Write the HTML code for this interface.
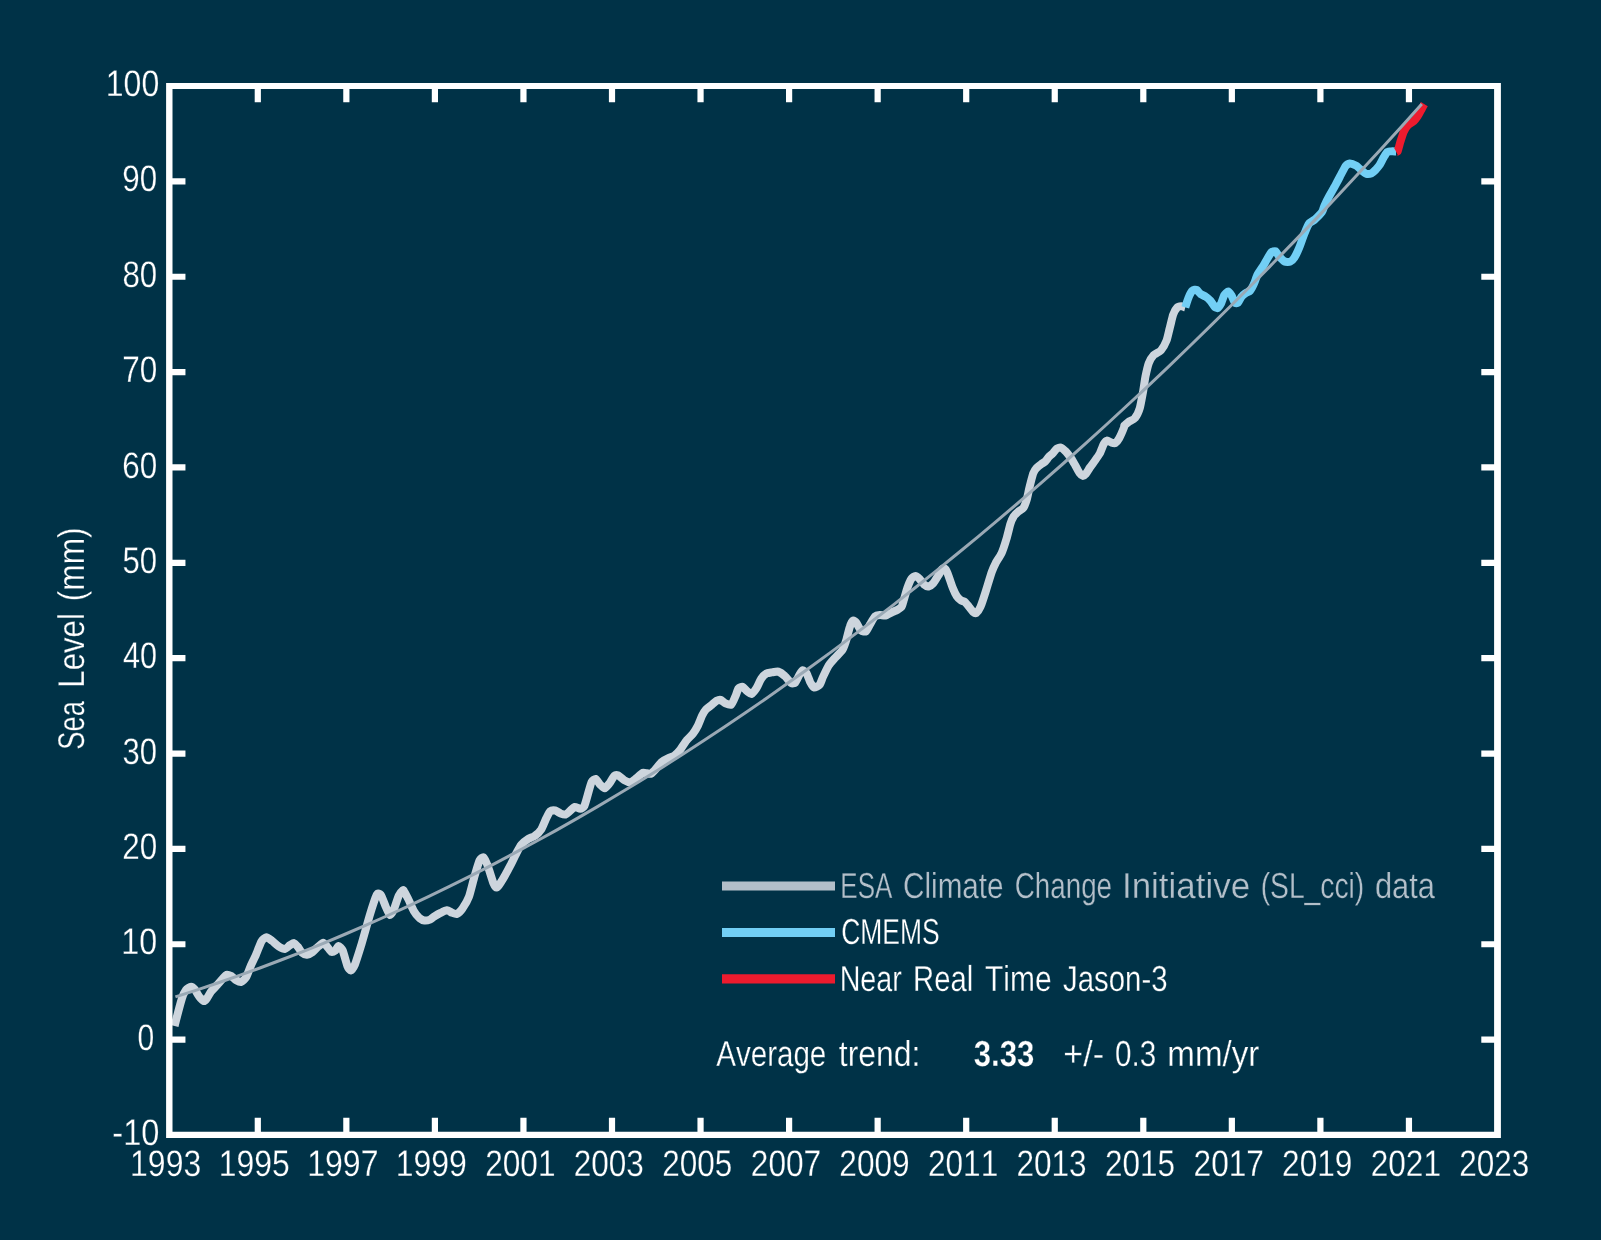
<!DOCTYPE html>
<html><head><meta charset="utf-8"><title>Sea Level</title>
<style>
html,body{margin:0;padding:0;background:#003247;}
body{width:1601px;height:1240px;overflow:hidden;}
svg{display:block;will-change:transform;}
text{font-family:"Liberation Sans",sans-serif;font-kerning:none;white-space:pre;text-rendering:geometricPrecision;stroke:#003247;stroke-width:0.3px;paint-order:fill stroke;}
</style></head><body>
<svg width="1601" height="1240" viewBox="0 0 1601 1240">
<rect width="1601" height="1240" fill="#003247"/>
<g fill="none" stroke-linejoin="round" stroke-linecap="butt">
<path d="M174.6,1026.0C175.3,1023.2 180.8,1002.1 181.9,998.5C183.0,994.8 185.1,991.0 186.0,989.8C186.9,988.6 190.0,986.7 190.9,986.7C191.8,986.6 194.1,988.6 194.9,989.6C195.7,990.6 198.1,995.2 199.0,996.3C199.9,997.5 203.0,1000.9 203.8,1001.1C204.6,1001.2 206.4,999.1 207.1,998.1C207.8,997.2 210.1,992.7 211.2,991.3C212.3,990.0 216.6,985.7 217.7,984.4C218.8,983.2 221.6,979.9 222.5,978.9C223.4,978.0 225.7,975.1 226.6,974.8C227.5,974.5 230.5,975.7 231.5,976.2C232.5,976.8 235.3,979.7 236.3,980.3C237.3,980.9 240.2,982.3 241.2,982.0C242.2,981.7 245.1,979.0 246.1,977.3C247.1,975.7 249.9,967.7 250.9,965.5C251.9,963.3 254.7,957.6 255.8,955.1C256.9,952.7 260.4,943.1 261.5,941.3C262.6,939.5 265.3,937.4 266.4,937.3C267.5,937.3 270.9,940.0 272.1,940.9C273.3,941.8 277.3,945.5 278.6,946.3C279.9,947.1 283.9,949.1 285.0,949.0C286.1,948.9 289.0,945.8 289.9,945.2C290.8,944.7 293.2,942.9 294.0,943.1C294.8,943.2 297.2,946.0 298.0,947.0C298.8,947.9 301.2,952.1 302.1,952.8C303.0,953.6 305.9,954.8 307.0,954.7C308.1,954.6 311.6,952.7 312.7,951.9C313.8,951.0 317.2,947.4 318.3,946.5C319.4,945.6 322.3,942.8 323.2,942.8C324.1,942.8 326.5,945.9 327.3,946.8C328.1,947.7 330.5,951.4 331.3,951.8C332.1,952.1 334.7,950.9 335.4,950.4C336.1,949.8 337.9,946.0 338.6,946.1C339.3,946.1 341.8,948.5 342.7,950.5C343.6,952.6 346.8,964.5 347.6,966.5C348.4,968.5 350.1,970.6 350.8,970.4C351.5,970.2 353.8,967.1 354.9,964.6C356.0,962.0 359.9,949.4 361.4,944.6C362.9,939.7 368.0,921.2 369.5,916.2C371.0,911.2 375.7,896.8 376.8,894.7C377.9,892.6 380.0,893.8 380.9,895.0C381.8,896.1 384.8,904.6 385.7,906.6C386.6,908.6 389.0,914.6 389.8,914.9C390.6,915.2 393.0,911.4 393.9,909.5C394.8,907.5 397.8,897.6 398.7,895.7C399.6,893.8 402.3,890.8 402.8,890.4C403.3,889.9 403.6,890.4 404.1,891.3C404.6,892.1 407.1,896.8 408.1,898.8C409.1,900.7 412.7,909.0 413.8,910.9C414.9,912.8 418.4,917.1 419.5,918.1C420.6,919.0 423.3,920.4 424.4,920.5C425.4,920.7 429.0,920.0 430.0,919.6C431.0,919.2 433.0,917.3 434.1,916.6C435.2,915.9 439.3,913.5 440.6,912.9C441.9,912.2 446.0,910.3 447.1,910.3C448.2,910.2 451.0,912.4 452.0,912.7C453.0,913.1 455.8,914.4 456.8,914.0C457.9,913.6 461.3,910.3 462.5,908.5C463.7,906.8 467.8,900.0 469.0,896.7C470.2,893.4 473.6,879.3 474.7,875.6C475.8,872.0 478.7,862.2 479.6,860.4C480.5,858.6 482.8,856.9 483.6,857.4C484.4,858.0 486.7,863.3 487.7,865.8C488.7,868.4 492.5,881.0 493.4,883.2C494.3,885.4 495.9,887.6 496.6,887.6C497.3,887.5 499.3,885.0 500.7,882.7C502.1,880.5 508.8,868.5 510.4,865.4C512.0,862.4 515.8,854.2 516.9,852.2C518.0,850.2 519.9,846.3 521.0,845.0C522.1,843.6 526.9,839.8 528.3,838.9C529.7,838.0 533.5,836.9 534.8,835.9C536.1,835.0 540.2,831.0 541.3,829.3C542.4,827.5 545.3,820.2 546.2,818.4C547.1,816.6 549.3,812.1 550.2,811.3C551.1,810.5 554.0,810.2 555.1,810.4C556.2,810.7 559.8,813.2 560.8,813.6C561.8,814.0 564.7,814.8 565.6,814.5C566.5,814.3 568.8,812.0 569.7,811.2C570.6,810.5 573.5,807.1 574.6,806.9C575.7,806.6 579.3,808.9 580.3,808.8C581.3,808.8 583.6,807.4 584.3,806.1C585.0,804.7 586.9,797.7 587.6,795.3C588.3,792.8 590.8,783.6 591.6,782.0C592.4,780.4 594.9,778.8 595.7,779.0C596.5,779.2 598.9,783.3 599.8,784.3C600.7,785.2 603.6,788.4 604.6,788.3C605.6,788.2 608.5,784.5 609.5,783.3C610.5,782.0 613.5,776.5 614.4,775.7C615.3,774.9 617.4,775.1 618.4,775.5C619.4,776.0 622.9,779.4 624.1,780.1C625.3,780.8 629.4,782.5 630.6,782.3C631.8,782.1 635.1,779.1 636.3,778.2C637.5,777.2 641.8,773.3 642.8,772.8C643.8,772.4 646.0,773.2 646.8,773.3C647.6,773.4 650.0,774.2 650.9,773.8C651.8,773.3 654.8,770.1 655.8,769.0C656.8,767.8 660.2,763.3 661.4,762.2C662.6,761.1 666.6,759.0 667.9,758.4C669.2,757.7 673.2,756.6 674.4,755.7C675.6,754.9 678.8,751.6 680.0,750.1C681.2,748.5 685.2,742.1 686.5,740.5C687.8,738.8 691.9,735.2 693.0,733.7C694.1,732.2 697.0,727.4 697.9,725.6C698.8,723.8 701.2,717.4 702.0,715.8C702.8,714.2 705.0,710.5 706.0,709.4C707.0,708.3 710.6,705.8 711.7,704.9C712.8,704.1 715.7,701.3 716.6,700.8C717.5,700.3 719.7,699.6 720.6,699.8C721.5,700.1 724.4,702.8 725.5,703.3C726.6,703.8 730.2,705.3 731.2,704.6C732.2,703.9 734.6,698.3 735.3,696.6C736.0,695.0 737.8,689.4 738.5,688.4C739.2,687.5 741.7,686.5 742.6,686.8C743.5,687.1 746.5,690.7 747.4,691.4C748.3,692.1 750.6,694.2 751.5,693.9C752.4,693.6 755.4,689.8 756.4,688.3C757.4,686.8 760.2,680.3 761.2,678.8C762.2,677.3 765.0,674.3 766.1,673.7C767.2,673.0 770.6,672.6 771.8,672.4C773.0,672.2 777.0,671.3 778.3,671.6C779.6,672.0 783.5,674.8 784.8,676.0C786.1,677.1 790.2,682.4 791.3,683.1C792.3,683.7 794.5,683.4 795.3,682.6C796.1,681.8 798.7,676.0 799.4,674.8C800.1,673.6 802.0,670.4 802.7,670.3C803.4,670.2 806.0,672.3 806.7,673.4C807.4,674.6 809.3,680.2 810.0,681.7C810.7,683.1 813.0,687.2 814.0,687.5C815.0,687.8 818.8,685.8 819.7,684.7C820.6,683.6 822.1,678.8 823.0,676.9C823.9,675.0 827.4,667.5 828.6,665.6C829.8,663.7 833.7,659.4 835.1,657.8C836.5,656.2 841.3,651.8 842.4,650.0C843.5,648.1 845.8,641.6 846.5,639.3C847.2,637.0 849.1,628.8 849.8,627.0C850.4,625.1 852.4,621.1 853.0,620.7C853.6,620.2 855.4,621.6 856.2,622.6C857.0,623.6 860.1,629.7 861.1,630.6C862.1,631.5 865.1,631.9 866.0,631.3C866.9,630.6 869.1,625.9 870.0,624.4C870.9,622.9 873.9,617.5 874.9,616.5C875.9,615.6 878.7,615.0 879.8,614.9C880.9,614.8 884.3,615.9 885.5,615.6C886.7,615.4 890.9,612.8 892.0,612.3C893.1,611.7 895.8,610.7 896.8,610.2C897.8,609.6 901.1,607.4 901.7,606.6C902.3,605.8 902.6,603.9 903.2,602.1C903.8,600.2 906.5,590.4 907.3,588.1C908.1,585.8 910.6,579.9 911.4,578.7C912.2,577.5 914.6,576.0 915.4,576.0C916.2,576.0 918.6,577.9 919.5,578.8C920.4,579.7 923.5,584.1 924.4,584.8C925.3,585.6 927.5,586.7 928.4,586.5C929.3,586.3 932.3,584.3 933.3,583.2C934.3,582.1 937.3,577.0 938.2,575.6C939.1,574.2 941.5,569.7 942.2,569.0C942.9,568.4 944.9,568.4 945.5,569.2C946.1,569.9 948.0,574.4 948.7,576.3C949.4,578.2 952.0,586.1 952.8,588.1C953.6,590.1 956.0,595.1 956.8,596.3C957.6,597.5 960.1,599.8 960.9,600.4C961.7,601.0 964.2,601.4 965.0,602.1C965.8,602.7 968.2,605.8 969.0,606.8C969.8,607.7 972.4,611.3 973.1,611.9C973.8,612.5 975.6,613.4 976.3,613.0C977.0,612.5 979.4,609.3 980.4,607.0C981.4,604.8 985.0,593.7 986.1,590.2C987.2,586.7 990.8,574.7 991.8,571.9C992.8,569.2 994.8,564.7 995.8,562.8C996.8,561.0 1000.4,555.7 1001.5,553.3C1002.6,551.0 1005.5,542.1 1006.4,539.1C1007.3,536.2 1009.7,526.1 1010.4,523.8C1011.1,521.5 1012.9,517.7 1013.7,516.4C1014.5,515.2 1017.6,512.3 1018.6,511.4C1019.6,510.6 1022.6,509.1 1023.4,507.9C1024.2,506.8 1026.0,502.0 1026.7,499.8C1027.4,497.6 1029.2,488.2 1029.9,485.6C1030.6,483.0 1032.5,475.2 1033.2,473.4C1033.9,471.7 1035.6,469.1 1036.4,468.2C1037.2,467.3 1040.4,464.8 1041.3,464.1C1042.2,463.4 1044.6,462.1 1045.3,461.4C1046.0,460.7 1047.9,458.0 1048.6,457.2C1049.3,456.4 1051.9,454.3 1052.7,453.4C1053.5,452.5 1055.9,449.1 1056.7,448.6C1057.5,448.0 1059.9,447.3 1060.8,447.6C1061.7,447.8 1064.5,450.2 1065.6,451.3C1066.6,452.4 1070.3,457.2 1071.3,458.6C1072.3,460.0 1074.6,464.2 1075.4,465.6C1076.2,467.1 1078.8,472.0 1079.5,473.0C1080.2,474.0 1082.1,475.8 1082.7,475.9C1083.3,476.0 1085.2,474.6 1085.9,473.8C1086.6,472.9 1089.1,468.7 1090.0,467.4C1090.9,466.1 1093.9,462.1 1094.9,460.7C1095.9,459.3 1098.9,455.2 1099.8,453.5C1100.7,451.8 1103.1,445.2 1103.8,443.9C1104.5,442.6 1106.4,440.7 1107.1,440.6C1107.8,440.4 1110.3,442.2 1111.1,442.4C1111.9,442.7 1114.4,443.6 1115.2,443.2C1116.0,442.7 1118.3,439.8 1119.2,438.2C1120.1,436.6 1123.6,428.4 1124.1,427.1C1124.6,425.8 1123.9,426.0 1124.4,425.4C1124.9,424.8 1128.2,422.2 1129.2,421.4C1130.2,420.7 1133.8,419.5 1134.9,418.1C1136.0,416.8 1139.0,410.7 1139.8,408.1C1140.6,405.5 1142.4,395.1 1143.0,392.0C1143.6,388.8 1144.9,379.1 1145.5,376.2C1146.1,373.4 1147.9,365.5 1148.7,363.3C1149.5,361.2 1152.4,356.4 1153.6,355.1C1154.8,353.8 1159.6,352.0 1160.9,350.5C1162.2,349.0 1165.7,342.7 1166.6,340.4C1167.5,338.1 1169.1,330.3 1169.8,327.8C1170.5,325.2 1172.4,316.8 1173.1,314.8C1173.8,312.7 1176.3,308.4 1177.1,307.6C1177.9,306.7 1180.4,306.2 1181.2,306.2C1182.0,306.2 1184.9,307.3 1185.3,307.4" stroke="#cdd5dd" stroke-width="8.0"/>
<path d="M1185.3,307.4C1185.6,306.4 1187.8,299.4 1188.5,297.7C1189.2,296.0 1191.8,291.3 1192.6,290.6C1193.4,289.8 1195.8,289.5 1196.6,289.9C1197.4,290.3 1199.8,293.5 1200.7,294.2C1201.6,294.8 1204.6,295.9 1205.6,296.6C1206.6,297.2 1209.5,299.8 1210.4,300.8C1211.3,301.8 1213.8,305.9 1214.5,306.6C1215.2,307.4 1217.0,308.4 1217.7,308.1C1218.4,307.8 1220.3,305.0 1221.0,303.7C1221.7,302.5 1223.5,296.5 1224.2,295.2C1224.9,294.0 1227.6,291.5 1228.3,291.5C1229.0,291.5 1230.8,294.2 1231.5,295.3C1232.2,296.4 1234.1,301.8 1234.8,302.5C1235.5,303.3 1237.3,303.3 1238.0,302.8C1238.7,302.2 1240.6,297.9 1241.3,297.0C1242.0,296.0 1244.4,293.9 1245.3,293.3C1246.2,292.6 1249.3,291.7 1250.2,290.6C1251.1,289.6 1253.6,284.6 1254.3,283.0C1255.0,281.4 1256.7,276.2 1257.5,274.7C1258.3,273.1 1261.4,268.7 1262.4,267.1C1263.4,265.5 1266.4,260.2 1267.3,258.7C1268.2,257.2 1270.5,253.1 1271.3,252.3C1272.1,251.6 1274.6,250.9 1275.4,251.2C1276.2,251.6 1278.0,255.0 1278.9,256.1C1279.8,257.1 1283.5,260.9 1284.6,261.5C1285.7,262.0 1289.3,262.0 1290.3,261.6C1291.3,261.2 1293.5,259.0 1294.4,257.6C1295.3,256.2 1298.2,250.2 1299.2,247.8C1300.2,245.5 1303.1,236.8 1304.1,234.4C1305.1,232.0 1307.9,225.2 1309.0,223.7C1310.1,222.2 1313.4,220.7 1314.7,219.6C1316.0,218.4 1321.0,213.4 1322.0,212.0C1323.0,210.6 1323.7,207.4 1324.4,205.8C1325.1,204.2 1328.3,197.8 1329.3,196.0C1330.3,194.2 1333.0,189.5 1334.1,187.6C1335.1,185.7 1338.7,179.1 1339.8,176.9C1340.9,174.8 1344.5,167.6 1345.5,166.2C1346.5,164.9 1348.5,163.5 1349.6,163.4C1350.7,163.3 1354.9,164.9 1356.1,165.6C1357.3,166.3 1360.8,169.7 1361.8,170.6C1362.8,171.4 1365.6,173.6 1366.6,173.9C1367.6,174.2 1370.6,173.7 1371.5,173.3C1372.4,172.9 1374.8,170.7 1375.6,169.9C1376.4,169.0 1378.8,166.3 1379.6,165.0C1380.4,163.8 1382.9,158.7 1383.7,157.4C1384.5,156.1 1386.5,152.6 1387.3,152.0C1388.1,151.4 1391.1,151.2 1392.0,151.2C1392.9,151.1 1395.6,151.5 1396.0,151.5" stroke="#72cff5" stroke-width="8.0"/>
<path d="M1396.0,151.5C1396.2,151.4 1397.4,151.9 1397.8,150.9C1398.2,149.9 1399.8,143.7 1400.4,141.7C1401.0,139.8 1403.2,132.8 1404.0,131.2C1404.8,129.5 1407.0,126.2 1408.0,125.2C1409.0,124.2 1412.7,122.2 1413.7,121.2C1414.7,120.3 1417.0,117.2 1417.8,116.0C1418.6,114.8 1421.1,110.1 1421.8,108.9C1422.5,107.7 1424.0,104.6 1424.3,104.1" stroke="#ed1b2e" stroke-width="8.0"/>
<path d="M175.4,996.9 L196.5,990.1 L217.7,983.0 L238.8,975.6 L259.9,968.0 L281.0,960.0 L302.2,951.8 L323.3,943.3 L344.4,934.5 L365.5,925.4 L386.7,916.0 L407.8,906.3 L428.9,896.4 L450.0,886.1 L471.2,875.6 L492.3,864.8 L513.4,853.7 L534.5,842.3 L555.7,830.6 L576.8,818.6 L597.9,806.4 L619.0,793.8 L640.2,781.0 L661.3,767.9 L682.4,754.5 L703.5,740.8 L724.7,726.8 L745.8,712.5 L766.9,698.0 L788.0,683.1 L809.2,668.0 L830.3,652.6 L851.4,636.9 L872.5,620.9 L893.7,604.6 L914.8,588.0 L935.9,571.2 L957.0,554.0 L978.2,536.6 L999.3,518.9 L1020.4,500.9 L1041.5,482.6 L1062.7,464.0 L1083.8,445.1 L1104.9,426.0 L1126.0,406.5 L1147.2,386.8 L1168.3,366.8 L1189.4,346.5 L1210.5,325.9 L1231.7,305.0 L1252.8,283.8 L1273.9,262.3 L1295.0,240.6 L1316.2,218.6 L1337.3,196.2 L1358.4,173.6 L1379.5,150.7 L1400.7,127.6 L1421.8,104.1" stroke="#9aa9b5" stroke-width="3.0"/>
</g>
<path fill="#fff" fill-rule="evenodd" d="M166.1,82.9H1500.9V1137.9H166.1Z M172.5,89.0V1131.8H1494.1V89.0Z"/>
<path d="M257.80,86.0v16.2 M257.80,1135.0v-17.2 M346.35,86.0v16.2 M346.35,1135.0v-17.2 M434.90,86.0v16.2 M434.90,1135.0v-17.2 M523.45,86.0v16.2 M523.45,1135.0v-17.2 M612.00,86.0v16.2 M612.00,1135.0v-17.2 M700.55,86.0v16.2 M700.55,1135.0v-17.2 M789.10,86.0v16.2 M789.10,1135.0v-17.2 M877.65,86.0v16.2 M877.65,1135.0v-17.2 M966.20,86.0v16.2 M966.20,1135.0v-17.2 M1054.75,86.0v16.2 M1054.75,1135.0v-17.2 M1143.30,86.0v16.2 M1143.30,1135.0v-17.2 M1231.85,86.0v16.2 M1231.85,1135.0v-17.2 M1320.40,86.0v16.2 M1320.40,1135.0v-17.2 M1408.95,86.0v16.2 M1408.95,1135.0v-17.2 M169.25,1039.64h16.2 M1497.5,1039.64h-16.2 M169.25,944.27h16.2 M1497.5,944.27h-16.2 M169.25,848.91h16.2 M1497.5,848.91h-16.2 M169.25,753.55h16.2 M1497.5,753.55h-16.2 M169.25,658.18h16.2 M1497.5,658.18h-16.2 M169.25,562.82h16.2 M1497.5,562.82h-16.2 M169.25,467.45h16.2 M1497.5,467.45h-16.2 M169.25,372.09h16.2 M1497.5,372.09h-16.2 M169.25,276.73h16.2 M1497.5,276.73h-16.2 M169.25,181.36h16.2 M1497.5,181.36h-16.2" stroke="#fff" stroke-width="6.2" fill="none"/>
<text transform="translate(112.30,1145.10) scale(0.8821,1)" font-size="36.92" fill="#fff">-10</text>
<text transform="translate(137.58,1049.74) scale(0.8131,1)" font-size="36.92" fill="#fff">0</text>
<text transform="translate(121.29,954.37) scale(0.8734,1)" font-size="36.92" fill="#fff">10</text>
<text transform="translate(122.17,859.01) scale(0.8513,1)" font-size="36.92" fill="#fff">20</text>
<text transform="translate(122.57,763.65) scale(0.8412,1)" font-size="36.92" fill="#fff">30</text>
<text transform="translate(123.05,668.28) scale(0.8291,1)" font-size="36.92" fill="#fff">40</text>
<text transform="translate(122.50,572.92) scale(0.8428,1)" font-size="36.92" fill="#fff">50</text>
<text transform="translate(122.15,477.55) scale(0.8517,1)" font-size="36.92" fill="#fff">60</text>
<text transform="translate(122.14,382.19) scale(0.8521,1)" font-size="36.92" fill="#fff">70</text>
<text transform="translate(122.39,286.83) scale(0.8456,1)" font-size="36.92" fill="#fff">80</text>
<text transform="translate(122.28,191.46) scale(0.8484,1)" font-size="36.92" fill="#fff">90</text>
<text transform="translate(105.76,96.10) scale(0.8684,1)" font-size="36.92" fill="#fff">100</text>
<text transform="translate(130.12,1175.90) scale(0.8649,1)" font-size="36.92" fill="#fff">1993</text>
<text transform="translate(218.67,1175.90) scale(0.8641,1)" font-size="36.92" fill="#fff">1995</text>
<text transform="translate(307.21,1175.90) scale(0.8675,1)" font-size="36.92" fill="#fff">1997</text>
<text transform="translate(395.76,1175.90) scale(0.8663,1)" font-size="36.92" fill="#fff">1999</text>
<text transform="translate(485.16,1175.90) scale(0.8564,1)" font-size="36.92" fill="#fff">2001</text>
<text transform="translate(573.71,1175.90) scale(0.8544,1)" font-size="36.92" fill="#fff">2003</text>
<text transform="translate(662.27,1175.90) scale(0.8536,1)" font-size="36.92" fill="#fff">2005</text>
<text transform="translate(750.81,1175.90) scale(0.8570,1)" font-size="36.92" fill="#fff">2007</text>
<text transform="translate(839.36,1175.90) scale(0.8558,1)" font-size="36.92" fill="#fff">2009</text>
<text transform="translate(927.91,1175.90) scale(0.8564,1)" font-size="36.92" fill="#fff">2011</text>
<text transform="translate(1016.46,1175.90) scale(0.8544,1)" font-size="36.92" fill="#fff">2013</text>
<text transform="translate(1105.02,1175.90) scale(0.8536,1)" font-size="36.92" fill="#fff">2015</text>
<text transform="translate(1193.56,1175.90) scale(0.8570,1)" font-size="36.92" fill="#fff">2017</text>
<text transform="translate(1282.11,1175.90) scale(0.8558,1)" font-size="36.92" fill="#fff">2019</text>
<text transform="translate(1370.66,1175.90) scale(0.8564,1)" font-size="36.92" fill="#fff">2021</text>
<text transform="translate(1459.21,1175.90) scale(0.8544,1)" font-size="36.92" fill="#fff">2023</text>
<path d="M722,886H835" stroke="#b3bfc9" stroke-width="9.2"/>
<path d="M722,932.5H835" stroke="#72cff5" stroke-width="9.2"/>
<path d="M722,978.8H835" stroke="#ed1b2e" stroke-width="9.2"/>
<text transform="translate(840.37,897.70) scale(0.7207,1)" font-size="36.05" fill="#b3bfc9">ESA</text>
<text transform="translate(903.10,897.70) scale(0.8219,1)" font-size="36.05" fill="#b3bfc9">Climate</text>
<text transform="translate(1014.79,897.70) scale(0.7701,1)" font-size="36.05" fill="#b3bfc9">Change</text>
<text transform="translate(1121.98,897.70) scale(0.9685,1)" font-size="36.05" fill="#b3bfc9">Initiative</text>
<text transform="translate(1260.65,897.70) scale(0.7837,1)" font-size="36.05" fill="#b3bfc9">(SL_cci)</text>
<text transform="translate(1374.95,897.70) scale(0.8559,1)" font-size="36.05" fill="#b3bfc9">data</text>
<text transform="translate(841.16,943.90) scale(0.7346,1)" font-size="36.05" fill="#fff">CMEMS</text>
<text transform="translate(839.65,991.30) scale(0.7945,1)" font-size="36.05" fill="#fff">Near</text>
<text transform="translate(913.10,991.30) scale(0.8107,1)" font-size="36.05" fill="#fff">Real</text>
<text transform="translate(985.08,991.30) scale(0.8296,1)" font-size="36.05" fill="#fff">Time</text>
<text transform="translate(1063.04,991.30) scale(0.8145,1)" font-size="36.05" fill="#fff">Jason-3</text>
<text transform="translate(716.19,1065.50) scale(0.8202,1)" font-size="36.05" fill="#fff">Average</text>
<text transform="translate(838.77,1065.50) scale(0.8858,1)" font-size="36.05" fill="#fff">trend:</text>
<text transform="translate(973.79,1065.50) scale(0.8636,1)" font-size="36.05" fill="#fff" font-weight="bold">3.33</text>
<text transform="translate(1063.34,1065.50) scale(0.9444,1)" font-size="36.05" fill="#fff">+/-</text>
<text transform="translate(1115.09,1065.50) scale(0.8224,1)" font-size="36.05" fill="#fff">0.3</text>
<text transform="translate(1167.30,1065.50) scale(0.9191,1)" font-size="36.05" fill="#fff">mm/yr</text>
<text transform="translate(83.50,749.64) rotate(-90) scale(0.7347,1)" font-size="37.21" fill="#fff">Sea</text>
<text transform="translate(83.50,687.66) rotate(-90) scale(0.8380,1)" font-size="37.21" fill="#fff">Level</text>
<text transform="translate(83.50,601.26) rotate(-90) scale(0.8508,1)" font-size="37.21" fill="#fff">(mm)</text>
</svg>
</body></html>
